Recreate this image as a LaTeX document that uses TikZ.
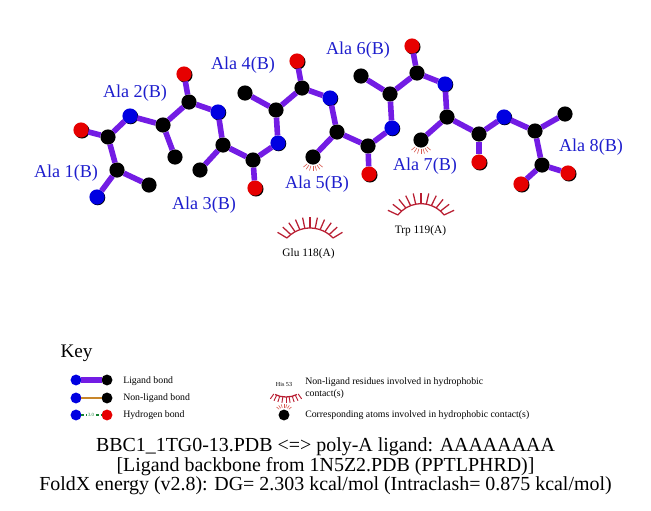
\documentclass[tikz,border=0pt]{standalone}
\usepackage{fontspec}
\setmainfont{Liberation Serif}
\usetikzlibrary{shadows}
\definecolor{ligbond}{RGB}{115,28,228}
\definecolor{nlbond}{RGB}{200,134,42}
\definecolor{atomblue}{RGB}{0,0,225}
\definecolor{atomred}{RGB}{230,0,0}
\definecolor{labelblue}{RGB}{30,30,205}
\definecolor{lashred}{RGB}{185,30,50}
\definecolor{softred}{RGB}{215,90,80}
\definecolor{hbgreen}{RGB}{20,130,50}
\tikzset{
  atom/.style={circle,inner sep=0pt,outer sep=0pt,minimum size=11.4pt},
  catom/.style={atom,fill=black},
  natom/.style={atom,fill=atomblue,general shadow={fill=black,shadow xshift=.5pt,shadow yshift=-.5pt}},
  oatom/.style={atom,fill=atomred,general shadow={fill=black,shadow xshift=.7pt,shadow yshift=-.7pt}},
  katom/.style={circle,inner sep=0pt,outer sep=0pt,minimum size=8.2pt},
  kc/.style={katom,fill=black},
  kn/.style={katom,fill=atomblue},
  ko/.style={katom,fill=atomred},
  lig/.style={draw=ligbond,line width=4.2pt},
  resname/.style={text=labelblue,font=\fontsize{13.6}{15}\selectfont,inner sep=0pt},
  contactname/.style={text=black,font=\fontsize{8.5}{9}\selectfont,inner sep=0pt},
  keytext/.style={text=black,font=\fontsize{7.35}{8.6}\selectfont,inner sep=0pt,anchor=west,align=left},
  caption/.style={text=black,font=\fontsize{14.95}{16}\selectfont,inner sep=0pt},
  lasharc/.style={draw=lashred,line width=.95pt},
  lashsmall/.style={draw=softred,line width=.45pt},
}
% fan of lashes: cx, cy, radius, length, first angle, last angle, count-1, style
\newcommand{\lashfan}[8]{%
  \foreach \k in {0,...,#7}{%
    \pgfmathsetmacro{\aa}{#5+(#6-#5)*\k/#7}%
    \pgfmathsetmacro{\bb}{90+(\aa-90)*1.25}%
    \draw[#8] ({#1+#3*cos(\aa)},{#2-#3*sin(\aa)}) -- ++({#4*cos(\bb)},{-#4*sin(\bb)});
  }%
}
\begin{document}
\begin{tikzpicture}[x=.75pt,y=-.75pt]
\useasboundingbox (0,0) rectangle (651,511);
% atoms
\node[natom] (n1) at (97,197) {};
\node[catom] (ca1) at (117,170) {};
\node[catom] (cb1) at (149,185) {};
\node[catom] (c1) at (108,137) {};
\node[oatom] (o1) at (81,130) {};
\node[natom] (n2) at (130,116) {};
\node[catom] (ca2) at (163,125) {};
\node[catom] (cb2) at (175,157) {};
\node[catom] (c2) at (189,102) {};
\node[oatom] (o2) at (184,74) {};
\node[natom] (n3) at (218,112) {};
\node[catom] (ca3) at (223,145) {};
\node[catom] (cb3) at (200,170) {};
\node[catom] (c3) at (253,160) {};
\node[oatom] (o3) at (255,188) {};
\node[natom] (n4) at (278,143) {};
\node[catom] (ca4) at (276,110) {};
\node[catom] (cb4) at (245,93) {};
\node[catom] (c4) at (302,88) {};
\node[oatom] (o4) at (297,61) {};
\node[natom] (n5) at (330,98) {};
\node[catom] (ca5) at (337,132) {};
\node[catom] (cb5) at (313,157) {};
\node[catom] (c5) at (368,146) {};
\node[oatom] (o5) at (369,174) {};
\node[natom] (n6) at (392,128) {};
\node[catom] (ca6) at (390,94) {};
\node[catom] (cb6) at (361,76) {};
\node[catom] (c6) at (417,73) {};
\node[oatom] (o6) at (412,46) {};
\node[natom] (n7) at (445,84) {};
\node[catom] (ca7) at (447,117) {};
\node[catom] (cb7) at (421,140) {};
\node[catom] (c7) at (479,134) {};
\node[oatom] (o7) at (479,162) {};
\node[natom] (n8) at (504,117) {};
\node[catom] (ca8) at (535,131) {};
\node[catom] (cb8) at (565,114) {};
\node[catom] (c8) at (542,165) {};
\node[oatom] (o8a) at (521,184) {};
\node[oatom] (o8b) at (568,173) {};
% ligand bonds
\foreach \p/\q in {n1/ca1,ca1/cb1,ca1/c1,c1/o1,c1/n2,n2/ca2,ca2/cb2,ca2/c2,c2/o2,c2/n3,
  n3/ca3,ca3/cb3,ca3/c3,c3/o3,c3/n4,n4/ca4,ca4/cb4,ca4/c4,c4/o4,c4/n5,
  n5/ca5,ca5/cb5,ca5/c5,c5/o5,c5/n6,n6/ca6,ca6/cb6,ca6/c6,c6/o6,c6/n7,
  n7/ca7,ca7/cb7,ca7/c7,c7/o7,c7/n8,n8/ca8,ca8/cb8,ca8/c8,c8/o8a,c8/o8b}
  \draw[lig] (\p) -- (\q);
% residue labels
\node[resname] (r1) at (66,173.5) {Ala 1(B)};
\node[resname] (r2) at (135,93.5) {Ala 2(B)};
\node[resname] (r3) at (204,205.5) {Ala 3(B)};
\node[resname] (r4) at (243,65.5) {Ala 4(B)};
\node[resname] (r5) at (317,184.5) {Ala 5(B)};
\node[resname] (r6) at (358,50.5) {Ala 6(B)};
\node[resname] (r7) at (425,166.5) {Ala 7(B)};
\node[resname] (r8) at (591,147.5) {Ala 8(B)};
% hydrophobic contacts
\draw[lasharc] ({310+31.5*cos(43)},{259.5-31.5*sin(43)}) arc[start angle=-43,end angle=-137,radius=31.5];
\lashfan{310}{259.5}{31.5}{11}{43}{137}{10}{lasharc}
\node[contactname] (glu) at (308.5,254) {Glu 118(A)};
\draw[lasharc] ({421+29.3*cos(38)},{233-29.3*sin(38)}) arc[start angle=-38,end angle=-142,radius=29.3];
\lashfan{421}{233}{29.3}{11}{38}{142}{10}{lasharc}
\node[contactname] (trp) at (420.5,231) {Trp 119(A)};
\lashfan{313}{157}{-9}{-5}{50}{130}{6}{lashsmall}
\lashfan{421}{140}{-9}{-5}{50}{130}{6}{lashsmall}
% key
\node[text=black,font=\fontsize{14.4}{15}\selectfont,inner sep=0pt] (keyt) at (76.5,353) {Key};
\node[kn] (k1a) at (76,380) {};
\node[kc] (k1b) at (107,380) {};
\draw[lig] (k1a) -- (k1b);
\node[keytext] (k1t) at (123,381) {Ligand bond};
\node[kn] (k2a) at (76,398) {};
\node[kc] (k2b) at (107,398) {};
\draw[draw=nlbond,line width=2.2pt] (k2a) -- (k2b);
\node[keytext] (k2t) at (123,398.5) {Non-ligand bond};
\node[kn] (k3a) at (76,415) {};
\node[ko] (k3b) at (107,415) {};
\draw[draw=hbgreen,line width=.9pt,dash pattern=on 2.2pt off 1.4pt] (k3a) -- (k3b);
\node[fill=white,inner sep=.4pt,text=hbgreen,font=\fontsize{3.6}{4}\selectfont] (k3l) at (91,415) {3.0};
\node[keytext] (k3t) at (123,415.5) {Hydrogen bond};
\node[text=black,font=\fontsize{4.6}{5}\selectfont,inner sep=0pt] (khis) at (284,384) {His 53};
\draw[lasharc] ({286+26*cos(65)},{371+26*sin(65)}) arc[start angle=65,end angle=115,radius=26];
\foreach \k in {0,...,8}{%
  \pgfmathsetmacro{\aa}{62+56*\k/8}%
  \pgfmathsetmacro{\bb}{90+(\aa-90)*1.25}%
  \draw[draw=lashred,line width=.7pt] ({286+26*cos(\aa)},{371+26*sin(\aa)}) -- ++({6*cos(\bb)},{6*sin(\bb)});
}
\node[keytext] (k4t) at (305,388) {Non-ligand residues involved in hydrophobic\\contact(s)};
\node[kc] (k5a) at (284,415) {};
\lashfan{284}{415}{7.5}{3.5}{50}{130}{6}{lashsmall}
\node[keytext] (k5t) at (305,415.5) {Corresponding atoms involved in hydrophobic contact(s)};
% caption
\node[caption] (cap1) at (325.5,447) {BBC1\_1TG0-13.PDB <=> poly-A ligand: AAAAAAAA};
\node[caption] (cap2) at (325.5,467) {[Ligand backbone from 1N5Z2.PDB (PPTLPHRD)]};
\node[caption] (cap3) at (325.5,486) {FoldX energy (v2.8): DG= 2.303 kcal/mol (Intraclash= 0.875 kcal/mol)};
\end{tikzpicture}
\end{document}
